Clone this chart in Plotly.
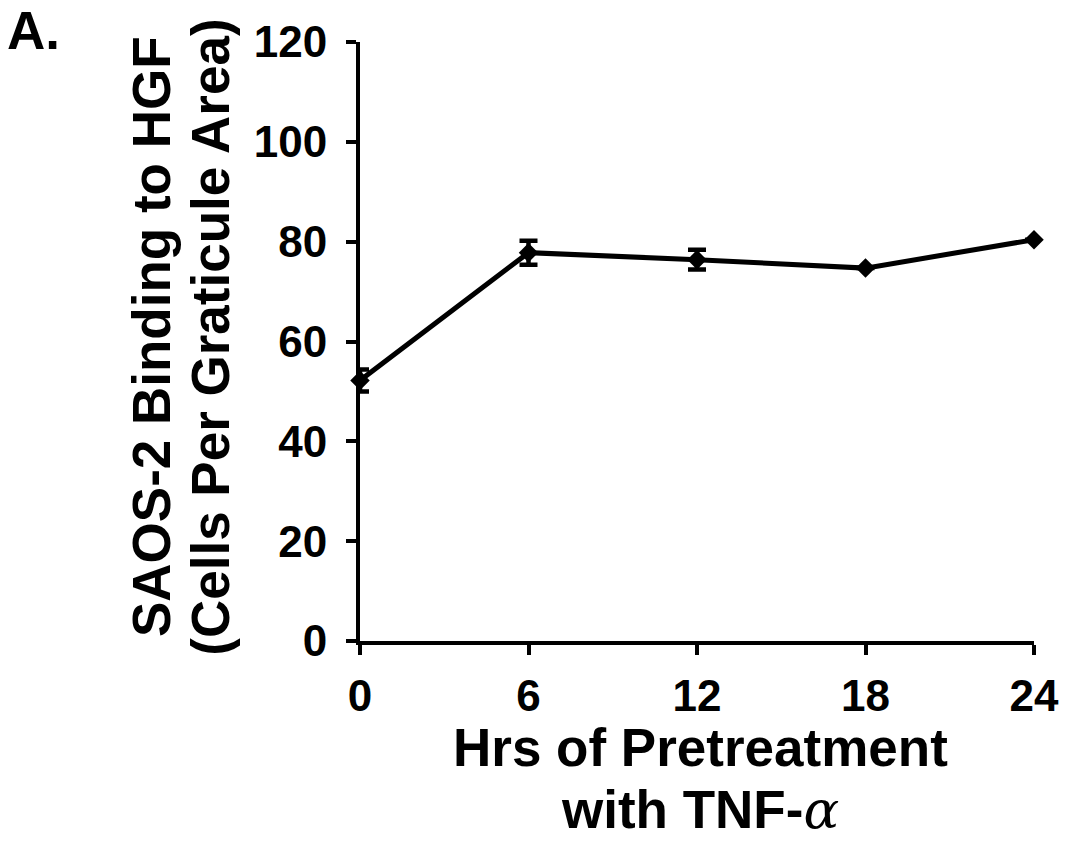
import plotly.graph_objects as go

hours = [0, 6, 12, 18, 24]
binding = [52.2, 77.8, 76.4, 74.7, 80.4]
errors = [2.2, 2.4, 2.0, 0, 0]
x_ticks = [0, 6, 12, 18, 24]
y_ticks = [0, 20, 40, 60, 80, 100, 120]

FONT = "Liberation Sans, Arial, sans-serif"

fig = go.Figure()
fig.add_trace(go.Scatter(
    x=hours, y=binding,
    mode="lines+markers",
    line=dict(color="black", width=5),
    marker=dict(symbol="diamond", size=15, color="black"),
    error_y=dict(type="data", array=errors, visible=True,
                 color="black", thickness=4.5, width=9),
    cliponaxis=False,
    showlegend=False,
))

axis_common = dict(
    showline=True, linecolor="black", linewidth=4,
    ticks="outside", ticklen=10, tickwidth=4, tickcolor="black",
    showgrid=False, zeroline=False,
    tickfont=dict(family=FONT, size=44, color="black", weight="bold"),
)

fig.update_xaxes(range=[0, 24], tickvals=x_ticks, ticktext=[str(v) for v in x_ticks],
                 ticklabelstandoff=3, **axis_common)
fig.update_yaxes(range=[0, 120], tickvals=y_ticks, ticktext=[str(v) for v in y_ticks],
                 ticklabelstandoff=10, **axis_common)

title_font = dict(family=FONT, size=53, color="black", weight="bold")

annotations = [
    dict(text="SAOS-2 Binding to HGF", x=-0.310, y=0.5075, textangle=-90),
    dict(text="(Cells Per Graticule Area)", x=-0.223, y=0.5075, textangle=-90),
    dict(text="Hrs of Pretreatment", x=0.505, y=-0.1786, textangle=0),
    dict(text="with TNF-<span style='font-family:DejaVu Serif;font-weight:normal;font-style:italic'>α</span>",
         x=0.505, y=-0.282, textangle=0),
    dict(text="A.", x=-0.4837, y=1.020, textangle=0),
]
for a in annotations:
    fig.add_annotation(xref="paper", yref="paper", showarrow=False,
                       xanchor="center", yanchor="middle", font=title_font, **a)

fig.update_layout(
    width=1071, height=841,
    margin=dict(l=360, r=37, t=42, b=200),
    plot_bgcolor="white", paper_bgcolor="white",
)

fig.write_html("out.html")
